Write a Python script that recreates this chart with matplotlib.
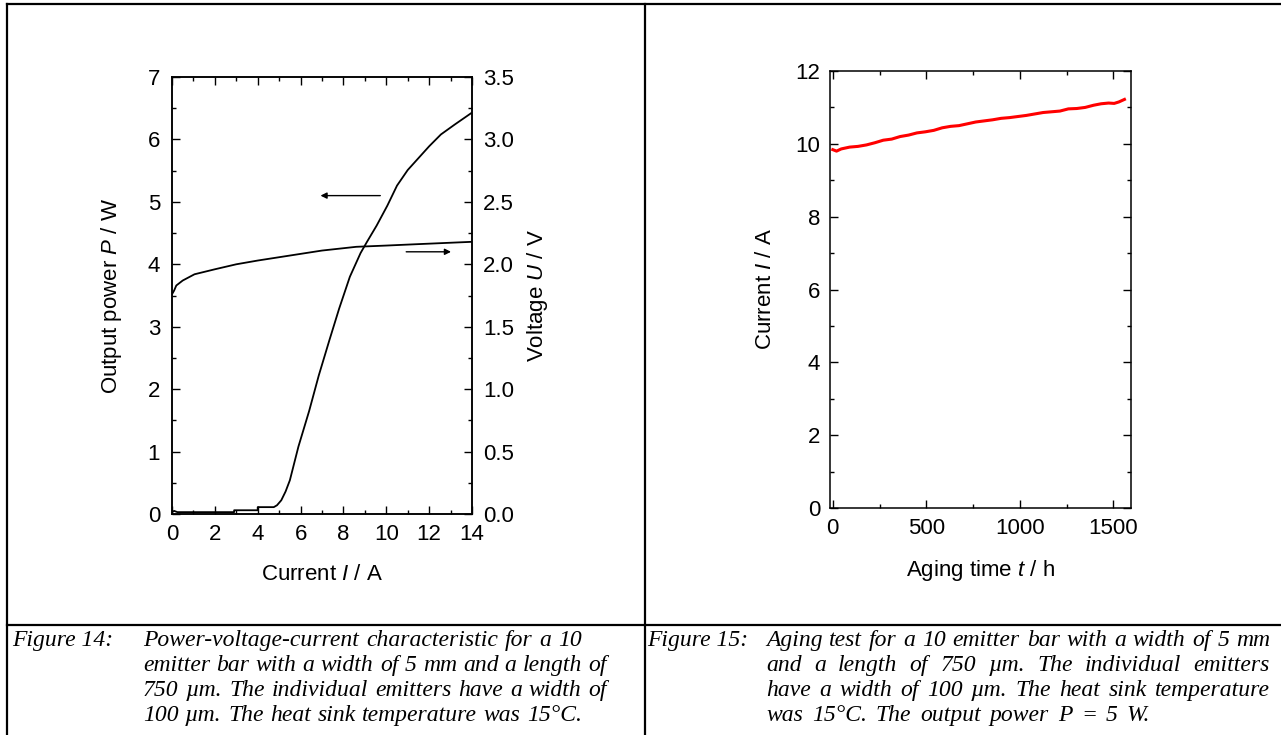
#Power-voltage-current characteristic and aging test of a 10 emitter bar
import numpy as np
import matplotlib
matplotlib.use("Agg")
import matplotlib.pyplot as plt
from matplotlib.lines import Line2D
from matplotlib.ticker import MultipleLocator, FormatStrFormatter

plt.rcParams['font.family'] = ['Liberation Sans', 'DejaVu Sans']
plt.rcParams['mathtext.fontset'] = 'custom'
plt.rcParams['mathtext.rm'] = 'Liberation Sans'
plt.rcParams['mathtext.it'] = 'Liberation Sans:italic'

#Figure 14: output power P (left axis) and voltage U (right axis) vs current I
I_power = [0.0, 0.1, 0.25, 2.9, 2.9, 4.0, 4.0, 4.75, 4.9, 5.1, 5.3, 5.5, 5.9, 6.4,
           6.85, 7.35, 7.8, 8.3, 8.8, 9.1, 9.55, 10.05, 10.5, 11.0, 11.5, 12.0,
           12.55, 13.2, 14.0]
P_power = [0.03, 0.05, 0.03, 0.03, 0.06, 0.06, 0.11, 0.11, 0.14, 0.22, 0.36, 0.54,
           1.08, 1.65, 2.22, 2.79, 3.29, 3.8, 4.18, 4.36, 4.62, 4.94, 5.26, 5.51,
           5.7, 5.89, 6.08, 6.24, 6.43]
I_volt = [0.0, 0.1, 0.2, 0.5, 1.05, 2.0, 3.0, 4.0, 5.5, 7.0, 8.6, 10.0, 11.3, 14.0]
U_volt = [1.76, 1.79, 1.83, 1.87, 1.92, 1.96, 2.0, 2.03, 2.07, 2.11, 2.14, 2.15, 2.16, 2.18]

#Figure 15: operating current vs aging time
t_aging = [0, 20, 45, 90, 135, 180, 225, 270, 315, 360, 405, 450, 495, 540, 585,
           630, 675, 720, 765, 810, 855, 900, 945, 990, 1035, 1080, 1125, 1170,
           1215, 1260, 1305, 1350, 1395, 1435, 1475, 1505, 1530, 1560]
I_aging = [9.84, 9.8, 9.86, 9.91, 9.93, 9.97, 10.03, 10.1, 10.13, 10.2, 10.24, 10.3,
           10.33, 10.37, 10.44, 10.48, 10.5, 10.55, 10.6, 10.63, 10.66, 10.7, 10.72,
           10.75, 10.78, 10.82, 10.86, 10.88, 10.9, 10.96, 10.97, 11.0, 11.06,
           11.1, 11.12, 11.11, 11.15, 11.22]

W, H = 1281, 735
fig = plt.figure(figsize=(W/100, H/100), dpi=100)

def fx(x):
    return x/W

def fy(y):
    return 1 - y/H

def axes_px(left, top, right, bottom):
    return fig.add_axes([fx(left), fy(bottom), (right-left)/W, (bottom-top)/H])

#table borders
lw_border = 1.6
for (x0, y0, x1, y1) in [(7, 4, 1281, 4), (7, 4, 7, 735), (645, 4, 645, 735),
                         (7, 625, 1281, 625)]:
    fig.add_artist(Line2D([fx(x0), fx(x1)], [fy(y0), fy(y1)], color='k',
                          lw=lw_border, solid_capstyle='projecting'))

fs = 16

def style_ticks(a):
    a.tick_params(which='both', direction='in', labelsize=fs, width=1.0)
    a.tick_params(which='major', length=5.5)
    a.tick_params(which='minor', length=3)
    for s in a.spines.values():
        s.set_linewidth(1.1)

#left chart
ax = axes_px(172, 77, 472, 514)
ax.plot(I_power, P_power, color='k', lw=1.3)
ax.set_xlim(0, 14)
ax.set_ylim(0, 7)
ax.xaxis.set_major_locator(MultipleLocator(2))
ax.xaxis.set_minor_locator(MultipleLocator(1))
ax.yaxis.set_major_locator(MultipleLocator(1))
ax.yaxis.set_minor_locator(MultipleLocator(0.5))
style_ticks(ax)
ax.tick_params(which='both', top=True, right=False)
ax.tick_params(axis='x', pad=7)
ax.tick_params(axis='y', pad=8.5)
ax.set_xlabel('Current $I$ / A', fontsize=fs, labelpad=14)
ax.set_ylabel('Output power $P$ / W', fontsize=fs, labelpad=17)

ax2 = ax.twinx()
ax2.plot(I_volt, U_volt, color='k', lw=1.3)
ax2.set_ylim(0, 3.5)
ax2.yaxis.set_major_locator(MultipleLocator(0.5))
ax2.yaxis.set_minor_locator(MultipleLocator(0.25))
ax2.yaxis.set_major_formatter(FormatStrFormatter('%.1f'))
style_ticks(ax2)
ax2.tick_params(which='both', pad=8)
ax2.set_ylabel('Voltage $U$ / V', fontsize=fs, labelpad=8)

arrow = dict(arrowstyle='-|>', color='k', lw=1.0, mutation_scale=9)
ax.annotate('', xy=(6.8, 5.1), xytext=(9.85, 5.1), arrowprops=arrow)
ax.annotate('', xy=(13.15, 4.2), xytext=(10.8, 4.2), arrowprops=arrow)

#right chart
bx = axes_px(830, 71, 1131, 508)
bx.plot(t_aging, I_aging, color='#ff0000', lw=2.2)
bx.set_xlim(-15, 1595)
bx.set_ylim(0, 12)
bx.xaxis.set_major_locator(MultipleLocator(500))
bx.xaxis.set_minor_locator(MultipleLocator(250))
bx.yaxis.set_major_locator(MultipleLocator(2))
bx.yaxis.set_minor_locator(MultipleLocator(1))
style_ticks(bx)
bx.tick_params(which='both', top=True, right=True)
bx.tick_params(axis='x', pad=7)
bx.tick_params(axis='y', pad=7)
bx.set_xlabel('Aging time $t$ / h', fontsize=fs, labelpad=14)
bx.set_ylabel('Current $I$ / A', fontsize=fs, labelpad=14)

#captions (justified, hanging indent)
cap_kw = dict(family='Liberation Serif', style='italic', fontsize=17)
renderer = fig.canvas.get_renderer()

def justify(words, x0, x1, ybase):
    texts = [fig.text(fx(x0), fy(ybase), w, va='baseline', ha='left', **cap_kw)
             for w in words]
    widths = [t.get_window_extent(renderer).width for t in texts]
    gap = (x1 - x0 - sum(widths)) / max(len(words) - 1, 1)
    x = x0
    for t, w in zip(texts, widths):
        t.set_x(fx(x))
        x += w + gap

cap14 = ["Power-voltage-current characteristic for a 10",
         "emitter bar with a width of 5 mm and a length of",
         "750 µm. The individual emitters have a width of",
         "100 µm. The heat sink temperature was 15°C."]
cap15 = ["Aging test for a 10 emitter bar with a width of 5 mm",
         "and a length of 750 µm. The individual emitters",
         "have a width of 100 µm. The heat sink temperature",
         "was 15°C. The output power P = 5 W."]
ends14 = [582, 607, 607, 582]
ends15 = [1270, 1270, 1270, 1150]
baselines = [646, 671, 696, 721]

fig.text(fx(12), fy(baselines[0]), 'Figure 14:', va='baseline', **cap_kw)
fig.text(fx(647), fy(baselines[0]), 'Figure 15:', va='baseline', **cap_kw)
for k, line in enumerate(cap14):
    justify(line.split(' '), 143, ends14[k], baselines[k])
for k, line in enumerate(cap15):
    justify(line.split(' '), 766, ends15[k], baselines[k])

fig.savefig("out.png", dpi=100)
plt.close("all")
